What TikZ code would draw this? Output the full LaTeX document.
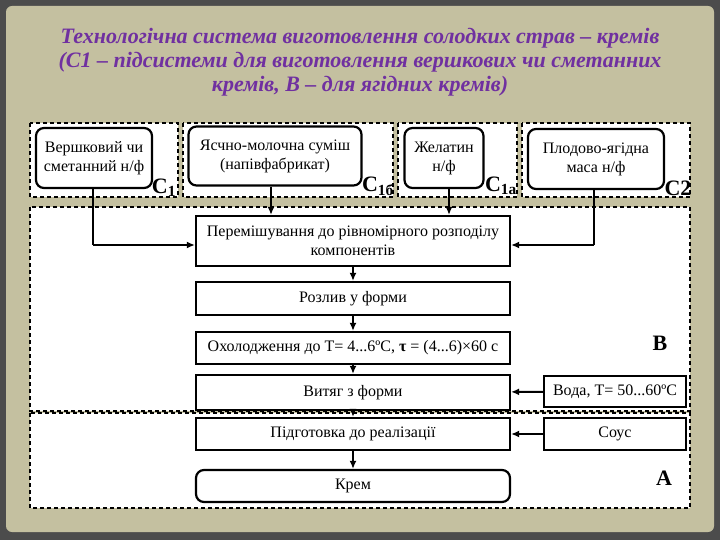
\documentclass[tikz,border=0pt]{standalone}
\usepackage{fontspec}
\setmainfont{Liberation Serif}
\usetikzlibrary{arrows.meta}
\begin{document}
\begin{tikzpicture}[x=1pt,y=-1pt,
  bx/.style={draw,line width=2.2pt,fill=white,font=\fontsize{16}{19}\selectfont,inner sep=2pt,align=center},
  rbx/.style={bx,rounded corners=8pt},
  reg/.style={draw,dash pattern=on 4pt off 3pt,line width=1.4pt,fill=white},
  lab/.style={font=\bfseries\fontsize{22}{22}\selectfont,inner sep=0pt},
  ar/.style={-{Latex[length=8pt,width=7pt]},line width=2pt},
  ln/.style={line width=2pt}]
\useasboundingbox (0,0) rectangle (720,540);
\fill[black!70] (0,0) rectangle (720,540);
\fill[rounded corners=6pt,fill={rgb,255:red,196;green,192;blue,160}] (6,6) rectangle (714,532);
% title
\node[font=\bfseries\itshape\fontsize{22}{24}\selectfont,text={rgb,255:red,112;green,48;blue,160},align=center] (title) at (360,62)
 {Технологічна система виготовлення солодких страв – кремів\\(С1 – підсистеми для виготовлення вершкових чи сметанних\\кремів, В – для ягідних кремів)};
% regions
\draw[reg] (30,123) rectangle (178,197);
\draw[reg] (183,123) rectangle (393,197);
\draw[reg] (398,123) rectangle (517,197);
\draw[reg] (522,123) rectangle (690,197);
\draw[reg] (30,207) rectangle (690,411);
\draw[reg] (30,413) rectangle (690,508);
% top nodes
\node[rbx,minimum width=116pt,minimum height=60pt] (c1) at (94,158) {Вершковий чи\\сметанний н/ф};
\node[rbx,minimum width=173pt,minimum height=59pt] (c16) at (275,156) {Ясчно-молочна суміш\\(напівфабрикат)};
\node[rbx,minimum width=79pt,minimum height=60pt] (c1a) at (444,158) {Желатин\\н/ф};
\node[rbx,minimum width=136pt,minimum height=60pt] (c2) at (596,159) {Плодово-ягідна\\маса  н/ф};
\node[lab] (l1) at (164,188) {С\textsubscript{1}};
\node[lab] (l16) at (378,186) {С\textsubscript{1б}};
\node[lab] (l1a) at (501,186) {С\textsubscript{1а}};
\node[lab] (l2) at (678,188) {С2};
% chain
\node[bx,minimum width=314pt,minimum height=50pt] (mix) at (353,241) {Перемішування до рівномірного розподілу\\компонентів};
\node[bx,minimum width=314pt,minimum height=33pt] (roz) at (353,298.5) {Розлив у форми};
\node[bx,minimum width=314pt,minimum height=32pt] (oh) at (353,348) {Охолодження до Т= 4...6ºС, \textbf{τ} = (4...6)×60 с};
\node[bx,minimum width=314pt,minimum height=35pt] (vyt) at (353,392.5) {Витяг з форми};
\node[bx,minimum width=142pt,minimum height=31pt] (voda) at (615,391.5) {Вода, Т= 50...60ºС};
\node[bx,minimum width=314pt,minimum height=32pt] (pid) at (353,434) {Підготовка до реалізації};
\node[bx,minimum width=142pt,minimum height=32pt] (sous) at (615,434) {Соус};
\node[rbx,minimum width=314pt,minimum height=32pt] (krem) at (353,486) {Крем};
\node[lab] (lb) at (660,343) {В};
\node[lab] (la) at (664,478) {А};
% connectors
\coordinate (k1) at (93,245);
\coordinate (k2) at (594,245);
\draw[ln] (93,188) -- (k1);
\draw[ar] (k1) -- (mix.west |- k1);
\draw[ln] (594,189) -- (k2);
\draw[ar] (k2) -- (mix.east |- k2);
\draw[ar] (c16.south -| 271,0) -- (mix.north -| 271,0);
\draw[ar] (c1a.south -| 449,0) -- (mix.north -| 449,0);
\draw[ar] (mix) -- (roz);
\draw[ar] (roz) -- (oh);
\draw[ar] (oh) -- (vyt);
\draw[ar] (vyt) -- (pid);
\draw[ar] (pid) -- (krem);
\draw[ar] (voda) -- (vyt);
\draw[ar] (sous) -- (pid);
\end{tikzpicture}
\end{document}
